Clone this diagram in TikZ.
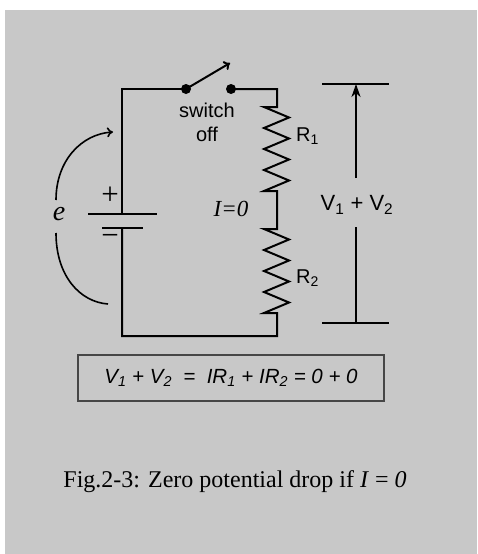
\documentclass[tikz,border=0pt]{standalone}
\usepackage{fontspec}
\setmainfont{Liberation Serif}
\setsansfont{Liberation Sans}
\usetikzlibrary{arrows.meta}
\definecolor{silverbg}{RGB}{200, 200, 200}
\definecolor{boxgray}{RGB}{70, 70, 70}

\begin{document}
\begin{tikzpicture}[
        x=1pt, y=-1pt,
        wire/.style={line width=2pt, line join=miter},
        plate/.style={line width=2pt},
        loop/.style={line width=1.6pt},
        flick/.style={line width=2pt, -{To[length=6pt,width=10pt]}},
        meter/.style={line width=2pt, -{Stealth[length=13pt,width=9pt,inset=4pt]}},
        ssans/.style={font=\sffamily\fontsize{#1}{24}\selectfont, inner sep=0pt},
        sserif/.style={font=\fontsize{#1}{24}\selectfont, inner sep=0pt},
        dot/.style={circle, fill=black, inner sep=0pt, minimum size=10pt}
    ]

    \useasboundingbox (0,0) rectangle (477,554);
    \fill[silverbg] (5,10) rectangle (477,554);

    % corners and ends of the loop
    \coordinate (tl) at (122,89);
    \coordinate (tr) at (277,89);
    \coordinate (bl) at (122,336);
    \coordinate (br) at (277,336);
    \coordinate (posplate) at (122,214);
    \coordinate (negplate) at (122,228);
    \coordinate (ronetop) at (277,107);
    \coordinate (rtwotop) at (277,229);
    \node[dot] (swa) at (186,89) {};
    \node[dot] (swb) at (231,89) {};
    \coordinate (swtip) at (230,63);

    \draw[wire] (posplate) -- (tl) -- (swa.center);
    \draw[wire] (swb.center) -- (tr) -- (ronetop)
        -- ++(-13,0) \foreach \k in {1,...,4} { -- ++(25,10.5) -- ++(-25,10.5) } -- ++(13,0)
        -- (rtwotop)
        -- ++(-13,0) \foreach \k in {1,...,4} { -- ++(25,10.5) -- ++(-25,10.5) } -- ++(13,0)
        -- (br) -- (bl) -- (negplate);
    \draw[flick] (swa.center) -- (swtip);

    % battery
    \draw[plate] ([xshift=-34pt]posplate) -- ([xshift=35pt]posplate);
    \draw[plate] ([xshift=-20pt]negplate) -- ([xshift=21pt]negplate);
    \node[sserif=31] (plus) at (110,196) {+};
    \node[sserif=31] (minus) at (110,240) {−};

    % emf
    \node[sserif=28] (emf) at (59,214) {\textit{e}};
    \coordinate (arcup) at (56,200);
    \coordinate (arcupend) at (113,132);
    \coordinate (arcdn) at (56,233);
    \coordinate (arcdnend) at (108,304);
    \draw[loop, -{To[length=6pt,width=10pt]}] (arcup) .. controls (56,160) and (82,134) .. (arcupend);
    \draw[loop] (arcdn) .. controls (56,276) and (80,302) .. (arcdnend);

    % labels
    \node[ssans=20, align=center] (swlbl) at (207,122) {switch\\off};
    \node[ssans=20, anchor=west] (ronelbl) at (296,136) {R\textsubscript{1}};
    \node[ssans=20, anchor=west] (rtwolbl) at (296,278) {R\textsubscript{2}};
    \node[sserif=23] (izero) at (231,209) {\textit{I=0}};

    % V1 + V2 bar
    \coordinate (vtopl) at (322,84);
    \coordinate (vtopr) at (389,84);
    \coordinate (vbotl) at (322,323);
    \coordinate (vbotr) at (389,323);
    \coordinate (vtop) at (356,84);
    \coordinate (vbot) at (356,323);
    \coordinate (vgapup) at (356,178);
    \coordinate (vgapdn) at (356,227);
    \node[ssans=22] (vsum) at (357,205) {V\textsubscript{1} + V\textsubscript{2}};
    \draw[plate] (vtopl) -- (vtopr);
    \draw[plate] (vbotl) -- (vbotr);
    \draw[meter] (vgapup) -- (vtop);
    \draw[plate] (vgapdn) -- (vbot);

    % equation and caption
    \node[draw=boxgray, line width=1.6pt, minimum width=306pt, minimum height=46pt,
          font=\sffamily\itshape\fontsize{20.5}{22}\selectfont] (eqbox) at (231,378)
        {V\textsubscript{1} + V\textsubscript{2} ~=~ IR\textsubscript{1} + IR\textsubscript{2} = 0 + 0};
    \node[sserif=24] (caption) at (235,482) {Fig.2-3: Zero potential drop if \textit{I} = \textit{0}};

\end{tikzpicture}
\end{document}
